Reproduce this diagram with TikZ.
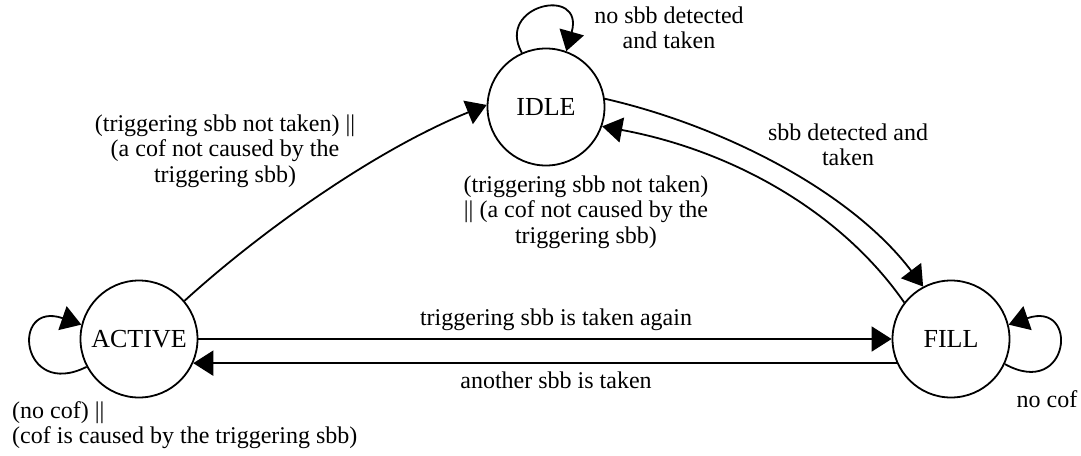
\documentclass[tikz,border=0pt]{standalone}
\usepackage{fontspec}
\setmainfont{Liberation Serif}
\usetikzlibrary{arrows.meta}
\begin{document}
\begin{tikzpicture}[x=1pt,y=-1pt,
  state/.style={circle,draw,line width=1.8pt,minimum size=117pt,inner sep=0pt,font=\fontsize{26}{28}\selectfont},
  edge/.style={line width=1.8pt,-{Triangle[length=20pt,width=25pt]}},
  lbl/.style={align=center,inner sep=0pt,font=\fontsize{24}{25.5}\selectfont},
  lbll/.style={align=left,inner sep=0pt,font=\fontsize{24}{25.5}\selectfont}]
\useasboundingbox (0,0) rectangle (1081,455);
\node[state] (I) at (546,107) {IDLE};
\node[state] (A) at (139,339) {ACTIVE};
\node[state] (F) at (951,339) {FILL};

% self loops
\draw[edge] (I.114) .. controls (495,5) and (585,-15) .. (I.70);
\draw[edge] (A.208) .. controls (20,400) and (10,300) .. (A.166);
\draw[edge] (F.-25) .. controls (1070,400) and (1080,300) .. (F.14);

% edges
\draw[edge] (A.40) .. controls (260,232) and (375,150) .. (I.178);
\draw[edge] (I.8) .. controls (720,125) and (850,190) .. (F.118);
\draw[edge] (F.142) .. controls (840,210) and (730,150) .. (I.-19);
\draw[edge] (A.0) -- (F.180);
\draw[edge] (F.204.4) -- (A.-24.4);

% labels
\node[lbl] (l4) at (669,28) {no sbb detected\\and taken};
\node[lbl] (l1) at (225,151) {(triggering sbb not taken) ||\\(a cof not caused by the\\triggering sbb)};
\node[lbl] (l2) at (586,212) {(triggering sbb not taken)\\|| (a cof not caused by the\\triggering sbb)};
\node[lbl] (l3) at (848,145) {sbb detected and\\taken};
\node[lbl,anchor=base] (l5) at (556,325) {triggering sbb is taken again};
\node[lbl,anchor=base] (l6) at (556,388) {another sbb is taken};
\node[lbll,anchor=west] (l7) at (12,425) {(no cof) ||\\(cof is caused by the triggering sbb)};
\node[lbl,anchor=base] (l8) at (1047,407) {no cof};
\end{tikzpicture}
\end{document}
